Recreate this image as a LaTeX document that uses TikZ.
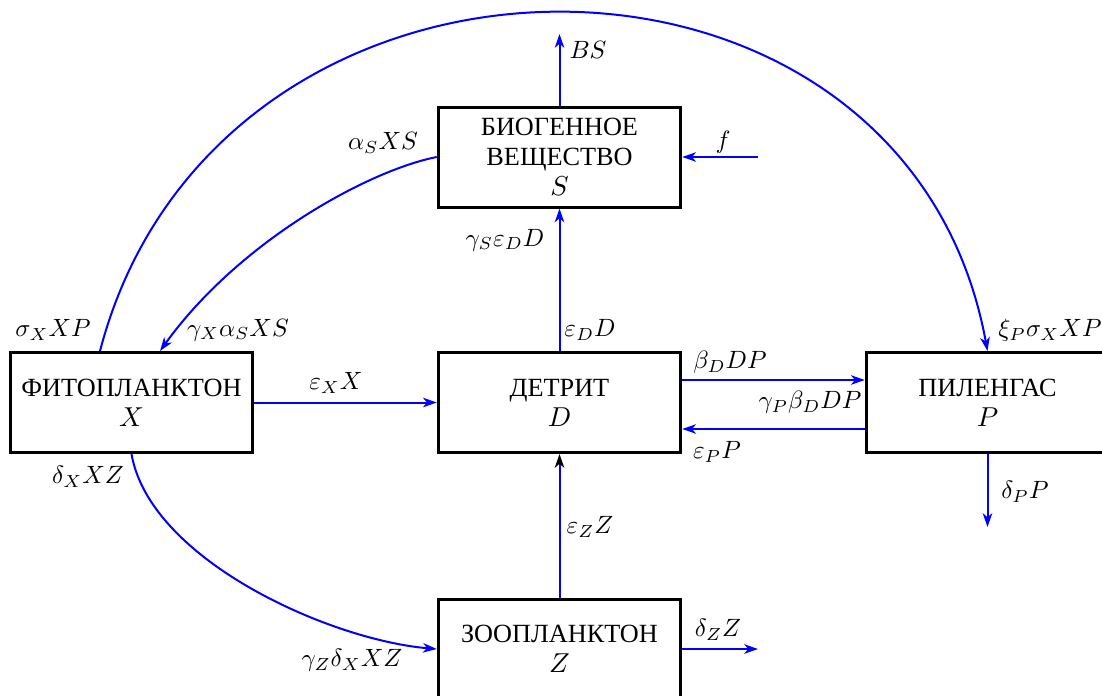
\documentclass[tikz,border=0pt]{standalone}
\usepackage{fontspec}
\newfontfamily\cyr{Liberation Serif}
\usetikzlibrary{arrows.meta}
\begin{document}
\begin{tikzpicture}[x=0.4pt,y=-0.4pt,
  box/.style={draw, line width=1.2pt, minimum width=97pt, minimum height=40pt, align=center, inner sep=0pt, font=\cyr\fontsize{10.5}{12}\selectfont},
  flow/.style={blue, line width=0.8pt, -{Stealth[length=5.5pt,width=3.8pt,inset=1.6pt]}},
  lab/.style={inner sep=0pt}]
\useasboundingbox (0,0) rectangle (1102,695);
\node[box] (S) at (559.5,157) {БИОГЕННОЕ\\ВЕЩЕСТВО\\$S$};
\node[box] (X) at (131.5,402.5) {ФИТОПЛАНКТОН\\$X$};
\node[box] (D) at (559.5,402.5) {ДЕТРИТ\\$D$};
\node[box] (P) at (987.5,402.5) {ПИЛЕНГАС\\$P$};
\node[box] (Z) at (559.5,649) {ЗООПЛАНКТОН\\$Z$};
\coordinate (BSend) at (559.5,34);
\coordinate (fstart) at (758,157);
\coordinate (Pout) at (987.5,527);
\coordinate (Zout) at (758,649);
% connectors
\draw[flow] (S.north) -- (BSend);
\draw[flow] (fstart) -- (S.east);
\draw[flow] (S.west) .. controls (370,170) and (240,240) .. ([xshift=11.4pt]X.north);
\draw[flow] ([xshift=-12.6pt]X.north) .. controls (218,-100) and (905,-100) .. (P.north);
\draw[flow] (X.east) -- (D.west);
\draw[flow] (D.north) -- (S.south);
\draw[flow] ([yshift=9pt]D.east) -- ([yshift=9pt]P.west);
\draw[flow] ([yshift=-10.6pt]P.west) -- ([yshift=-10.6pt]D.east);
\draw[flow] (P.south) -- (Pout);
\draw[flow] (X.south) .. controls (150,560) and (330,640) .. (Z.west);
\draw[blue, line width=0.8pt, -{Stealth[length=5.5pt,width=3.8pt,inset=1.6pt,color=black]}] (Z.north) -- (D.south);
\draw[flow] (Z.east) -- (Zout);
% labels
\node[lab] (lBS) at (588,50) {$BS$};
\node[lab] (lf) at (723,142) {$f$};
\node[lab] (laS) at (383,143) {$\alpha_S XS$};
\node[lab] (lgX) at (238,330) {$\gamma_X\alpha_S XS$};
\node[lab] (lsX) at (53,330) {$\sigma_X XP$};
\node[lab] (lxP) at (1050,330) {$\xi_P\sigma_X XP$};
\node[lab] (leX) at (336,383) {$\varepsilon_X X$};
\node[lab] (leD) at (590,330) {$\varepsilon_D D$};
\node[lab] (lgS) at (505,240) {$\gamma_S\varepsilon_D D$};
\node[lab] (lbD) at (730,362) {$\beta_D DP$};
\node[lab] (lgP) at (810,402) {$\gamma_P\beta_D DP$};
\node[lab] (leP) at (717,452) {$\varepsilon_P P$};
\node[lab] (ldP) at (1025,492) {$\delta_P P$};
\node[lab] (ldX) at (88,477) {$\delta_X XZ$};
\node[lab] (lgZ) at (352,660) {$\gamma_Z\delta_X XZ$};
\node[lab] (leZ) at (590,527) {$\varepsilon_Z Z$};
\node[lab] (ldZ) at (718,630) {$\delta_Z Z$};
\end{tikzpicture}
\end{document}
